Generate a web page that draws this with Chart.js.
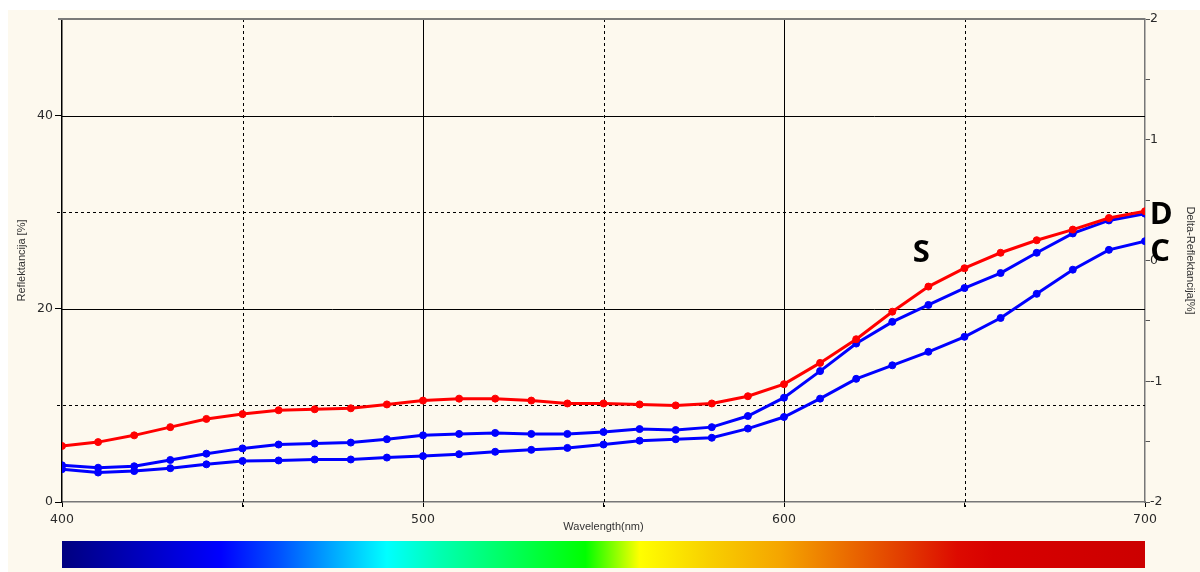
<!DOCTYPE html>
<html>
<head>
<meta charset="utf-8">
<script src="https://cdn.jsdelivr.net/npm/chart.js@4/dist/chart.umd.min.js"></script>
<style>
  html, body { margin: 0; padding: 0; background: #ffffff; }
  #wrap { width: 1200px; height: 572px; }
</style>
</head>
<body>
<div id="wrap"><canvas id="reflChart" width="1200" height="572"></canvas></div>
<script>
// Reflektancija - spektar od 400 do 700 nm
const wavelengths = [400, 410, 420, 430, 440, 450, 460, 470, 480, 490, 500,
                     510, 520, 530, 540, 550, 560, 570, 580, 590, 600,
                     610, 620, 630, 640, 650, 660, 670, 680, 690, 700];

// S (crvena)
const seriesS = [5.8, 6.2, 6.9, 7.75, 8.6, 9.1, 9.5, 9.6, 9.7, 10.1, 10.5,
                 10.7, 10.7, 10.5, 10.2, 10.2, 10.1, 10.0, 10.2, 10.95, 12.2,
                 14.4, 16.85, 19.7, 22.3, 24.2, 25.8, 27.1, 28.2, 29.4, 30.1];

// D (gornja plava)
const seriesD = [3.8, 3.55, 3.7, 4.35, 5.0, 5.55, 5.95, 6.05, 6.15, 6.5, 6.9,
                 7.05, 7.15, 7.05, 7.05, 7.25, 7.55, 7.45, 7.75, 8.9, 10.8,
                 13.55, 16.4, 18.65, 20.4, 22.15, 23.7, 25.8, 27.8, 29.15, 29.85];

// C (donja plava)
const seriesC = [3.4, 3.05, 3.2, 3.5, 3.9, 4.25, 4.3, 4.4, 4.4, 4.6, 4.75,
                 4.95, 5.2, 5.4, 5.6, 5.95, 6.35, 6.5, 6.65, 7.6, 8.8,
                 10.7, 12.75, 14.15, 15.55, 17.1, 19.05, 21.55, 24.05, 26.1, 27.0];

// oznake krivulja (tekst, nm, %)
const curveLabels = ['S', 'D', 'C'];
const curveLabelX = [638, 704.5, 704.2];
const curveLabelY = [25.8, 29.7, 25.9];

// boje spektralne trake
const spectrumNm = [400, 444, 460, 490, 505, 545, 560, 579, 599, 618, 633, 648, 658, 700];
const spectrumColors = ['#000080', '#0000ff', '#0050ff', '#00ffff', '#00ffb0', '#00ff00', '#ffff00',
                        '#f8d000', '#f5a500', '#ea6a00', '#e23c00', '#dd0a00', '#d80000', '#cc0000'];

const ctx = document.getElementById('reflChart').getContext('2d');

const pozadina = {
    id: 'pozadina',
    beforeDraw(chart) {
        const c = chart.ctx;
        c.save();
        c.fillStyle = '#ffffff';
        c.fillRect(0, 0, chart.width, chart.height);
        c.fillStyle = '#fdf9ee';
        c.fillRect(8, 10, chart.width - 8, chart.height - 10);
        c.restore();
    }
};

// mreža: pune linije na 100 nm / 20 %, isprekidane između
const mreza = {
    id: 'mreza',
    beforeDatasetsDraw(chart) {
        const c = chart.ctx;
        const a = chart.chartArea;
        const x = chart.scales.x;
        const y = chart.scales.y;
        c.save();
        c.lineWidth = 1;
        c.strokeStyle = '#000000';
        [450, 500, 550, 600, 650].forEach(v => {
            const px = Math.round(x.getPixelForValue(v)) + 0.5;
            c.setLineDash(v % 100 === 0 ? [] : [3, 3]);
            c.beginPath();
            c.moveTo(px, a.top);
            c.lineTo(px, a.bottom + (v % 100 === 0 ? 0 : 5));
            c.stroke();
        });
        [10, 20, 30, 40].forEach(v => {
            const py = Math.round(y.getPixelForValue(v)) + 0.5;
            c.setLineDash(v % 20 === 0 ? [] : [3, 3]);
            c.beginPath();
            c.moveTo(a.left - (v % 20 === 0 ? 0 : 5), py);
            c.lineTo(a.right, py);
            c.stroke();
        });
        c.setLineDash([]);
        c.strokeStyle = '#7a7a7a';
        c.lineWidth = 2;
        c.beginPath();
        c.moveTo(a.left - 4, a.top);
        c.lineTo(a.right, a.top);
        c.stroke();
        c.restore();
    },
    afterDatasetsDraw(chart) {
        const c = chart.ctx;
        const x = chart.scales.x;
        const y = chart.scales.y;
        c.save();
        c.fillStyle = '#000000';
        c.font = 'bold 31px "Open Sans", sans-serif';
        c.textAlign = 'center';
        c.textBaseline = 'middle';
        for (let i = 0; i < curveLabels.length; i++) {
            c.fillText(curveLabels[i], x.getPixelForValue(curveLabelX[i]), y.getPixelForValue(curveLabelY[i]));
        }
        c.restore();
    },
    afterDraw(chart) {
        const c = chart.ctx;
        const a = chart.chartArea;
        const x = chart.scales.x;
        const g = c.createLinearGradient(a.left, 0, a.right, 0);
        for (let i = 0; i < spectrumNm.length; i++) {
            g.addColorStop((spectrumNm[i] - 400) / 300, spectrumColors[i]);
        }
        c.save();
        c.fillStyle = g;
        c.fillRect(x.getPixelForValue(400), 541, x.getPixelForValue(700) - x.getPixelForValue(400), 27);
        c.restore();
    }
};

const tickFont = { family: '"DejaVu Sans", sans-serif', size: 12.5 };
const titleFont = { family: '"Liberation Sans", Arial, sans-serif', size: 11 };

new Chart(ctx, {
    type: 'line',
    data: {
        labels: wavelengths,
        datasets: [
            {
                label: 'S',
                data: seriesS,
                borderColor: '#ff0000',
                backgroundColor: '#ff0000',
                borderWidth: 3,
                pointRadius: 3.5,
                pointBorderWidth: 1,
                tension: 0,
                yAxisID: 'y'
            },
            {
                label: 'D',
                data: seriesD,
                borderColor: '#0000ff',
                backgroundColor: '#0000ff',
                borderWidth: 3,
                pointRadius: 3.5,
                pointBorderWidth: 1,
                tension: 0,
                yAxisID: 'y'
            },
            {
                label: 'C',
                data: seriesC,
                borderColor: '#0000ff',
                backgroundColor: '#0000ff',
                borderWidth: 3,
                pointRadius: 3.5,
                pointBorderWidth: 1,
                tension: 0,
                yAxisID: 'y'
            }
        ]
    },
    options: {
        responsive: false,
        animation: false,
        devicePixelRatio: 1,
        layout: { padding: { top: 19, left: 0, right: 0, bottom: 0 } },
        plugins: {
            legend: { display: false },
            tooltip: { enabled: false }
        },
        scales: {
            x: {
                type: 'linear',
                min: 400,
                max: 700,
                afterFit: s => { s.height = 70; },
                ticks: {
                    stepSize: 50,
                    padding: 5,
                    maxRotation: 0,
                    color: '#2a2a2a',
                    font: tickFont,
                    callback: v => (v % 100 === 0 ? v : '')
                },
                grid: { drawOnChartArea: false, tickLength: 5, color: '#000000' },
                border: { color: '#777777', width: 1.5 },
                title: {
                    display: true,
                    text: 'Wavelength(nm)',
                    color: '#333333',
                    font: titleFont,
                    padding: { top: 0, bottom: 38 }
                }
            },
            y: {
                position: 'left',
                min: 0,
                max: 50,
                afterFit: s => { s.width = 62; },
                ticks: {
                    stepSize: 10,
                    padding: 2,
                    color: '#2a2a2a',
                    font: tickFont,
                    callback: v => (v % 20 === 0 && v < 50 ? v : '')
                },
                grid: {
                    drawOnChartArea: false,
                    tickLength: 7,
                    color: ctx2 => (ctx2.tick && ctx2.tick.value % 20 === 0 && ctx2.tick.value < 50 ? '#000000' : 'rgba(0,0,0,0)')
                },
                border: { color: '#000000', width: 1.5 },
                title: {
                    display: true,
                    text: 'Reflektancija [%]',
                    color: '#333333',
                    font: titleFont,
                    padding: { top: 15, bottom: 0 }
                }
            },
            y2: {
                position: 'right',
                min: -2,
                max: 2,
                afterFit: s => { s.width = 55; },
                ticks: {
                    stepSize: 0.5,
                    padding: 0,
                    color: '#2a2a2a',
                    font: tickFont,
                    callback: v => (Number.isInteger(v) ? v : '')
                },
                grid: { drawOnChartArea: false, tickLength: 5, color: '#555555' },
                border: { color: '#777777', width: 1.5 },
                title: {
                    display: true,
                    text: 'Delta-Reflektancija[%]',
                    color: '#333333',
                    font: titleFont,
                    padding: { top: 3, bottom: 0 }
                }
            }
        }
    },
    plugins: [pozadina, mreza]
});
</script>
</body>
</html>
